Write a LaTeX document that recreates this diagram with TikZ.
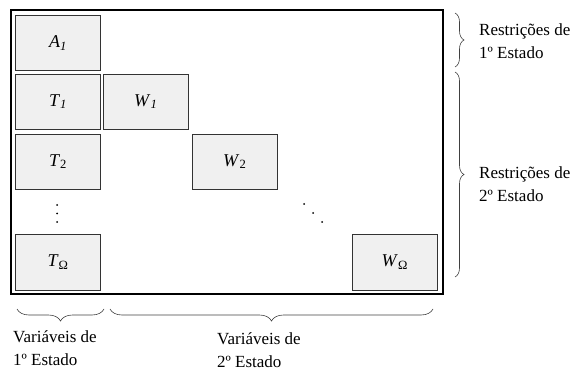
\documentclass[tikz,border=0pt]{standalone}
\usepackage{fontspec}
\setmainfont{Liberation Serif}
\usetikzlibrary{positioning, decorations.pathreplacing}
\tikzset{
    x=1pt,
    y=-1pt,
    node distance=3pt,
    block/.style={draw=black!80, line width=0.8pt, fill=black!6,
        minimum width=85pt, minimum height=55pt, inner sep=0pt,
        font=\fontsize{18}{21}\selectfont},
    curly/.style={decorate, decoration={brace, amplitude=#1},
        line width=0.6pt, draw=black!75},
    curly/.default=9pt,
    note/.style={align=left, inner sep=0pt, font=\fontsize{17}{23}\selectfont},
}
\newcommand{\blk}[2]{\textit{#1}\textsubscript{#2}}

\begin{document}
\begin{tikzpicture}
    \useasboundingbox (0,0) rectangle (583,371);

    % matrix frame
    \draw[line width=1.1pt] (11,10) rectangle (443,294);

    % blocks
    \node[block] (A1) at (58,43) {\blk{A}{\textit{1}}};
    \node[block, below=3pt of A1] (T1) {\blk{T}{\textit{1}}};
    \node[block, right=2pt of T1] (W1) {\blk{W}{\textit{1}}};
    \node[block, below=4pt of T1] (T2) {\blk{T}{2}};
    \node[block, right=91pt of T2] (W2) {\blk{W}{2}};
    \node[block, below=45pt of T2] (To) {\blk{T}{Ω}};
    \node[block, right=251pt of To] (Wo) {\blk{W}{Ω}};

    % dots
    \foreach \y in {205,213.5,222}
        \fill (57,\y) circle (1pt);
    \foreach \p in {(304,204),(313,213),(322,222)}
        \fill \p circle (1pt);

    % braces
    \draw[curly] (455,13) -- (455,67);
    \draw[curly] (455,72) -- (455,277);
    \draw[curly=12pt] (104,309) -- (17,309);
    \draw[curly=12pt] (433,309) -- (110,309);

    \node[note, anchor=west] (r1) at (479,41) {Restrições de\\1º Estado};
    \node[note, anchor=west] (r2) at (479,184) {Restrições de\\2º Estado};
    \node[note, anchor=west] (v1) at (13,348) {Variáveis de\\1º Estado};
    \node[note, anchor=west] (v2) at (217,350) {Variáveis de\\2º Estado};
\end{tikzpicture}
\end{document}
